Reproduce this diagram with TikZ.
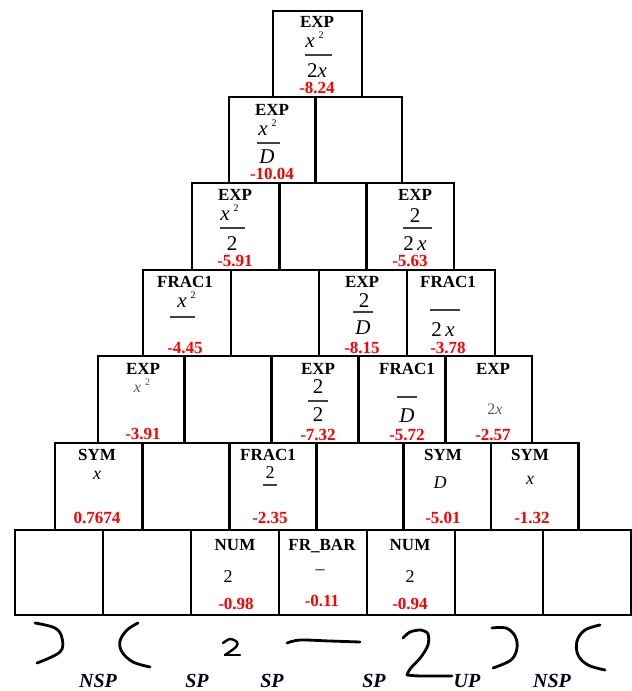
\documentclass[tikz,border=0pt]{standalone}
\usepackage{fontspec}
\setmainfont{Liberation Serif}
\newcommand\xsq{\textit{x}\kern4pt\raisebox{0.4em}{\fontsize{10}{10}\selectfont 2}}
\begin{document}
\begin{tikzpicture}[x=1pt,y=-1pt,
  cell/.style={draw, line width=2.8pt, inner sep=0pt},
  lab/.style={font=\fontsize{17}{17}\selectfont\bfseries, inner sep=0pt},
  val/.style={font=\fontsize{17}{17}\selectfont\bfseries, text=red, inner sep=0pt},
  mth/.style={font=\fontsize{21}{21}\selectfont, anchor=base, inner sep=0pt},
  mths/.style={font=\fontsize{16}{16}\selectfont, anchor=base, inner sep=0pt, text=black!65},
  mthm/.style={font=\fontsize{18}{18}\selectfont, anchor=base, inner sep=0pt},
  fbar/.style={line width=1.2pt, draw=black!75},
  tag/.style={font=\fontsize{20}{20}\selectfont\bfseries\itshape, inner sep=0pt, text=black!90!blue},
  ink/.style={line width=2.8pt, line cap=round, line join=round}]
\useasboundingbox (0,0) rectangle (632,691);
\fill[white] (0,0) rectangle (632,691);
% pyramid of cells
\foreach \r/\l/\w/\t/\h in {0/273/89/11/86, 1/229/86.5/97/86, 2/192/87.3/183/87, 3/143/88/270/86, 4/98/86.8/356/87, 5/55/87.2/443/87, 6/15/88/530/85} {
  \foreach \i in {0,...,\r} {
    \node[cell, minimum width=\w pt, minimum height=\h pt] (c\r\i) at ({\l+\w*(\i+0.5)},{\t+\h/2}) {};
  }
}
% row 0
\node[lab] (l00) at (317,22) {EXP};
\node[mth] (a00) at (314.5,47) {\xsq};
\draw[fbar] (305,55) -- (332,55);
\node[mth] (b00) at (317,77) {2\textit{x}};
\node[val] (v00) at (317,88) {-8.24};
% row 1
\node[lab] (l10) at (272,110) {EXP};
\node[mth] (a10) at (267.5,135) {\xsq};
\draw[fbar] (257,143) -- (280,143);
\node[mth] (b10) at (267,163) {\textit{D}};
\node[val] (v10) at (272,174) {-10.04};
% row 2
\node[lab] (l20) at (235,195) {EXP};
\node[mth] (a20) at (229.5,220) {\xsq};
\draw[fbar] (220,228) -- (245,228);
\node[mth] (b20) at (232,250) {2};
\node[val] (v20) at (235,261) {-5.91};
\node[lab] (l22) at (415,195) {EXP};
\node[mth] (a22) at (415,222) {2};
\draw[fbar] (403,228) -- (432,228);
\node[mth] (b22) at (415,250) {2\,\textit{x}};
\node[val] (v22) at (410,261) {-5.63};
% row 3
\node[lab] (l30) at (185,282) {FRAC1};
\node[mth] (a30) at (186.5,307) {\xsq};
\draw[fbar] (170,317) -- (195,317);
\node[val] (v30) at (185,348) {-4.45};
\node[lab] (l32) at (362,282) {EXP};
\node[mth] (a32) at (364,307) {2};
\draw[fbar] (353,312) -- (373,312);
\node[mth] (b32) at (363,334) {\textit{D}};
\node[val] (v32) at (362,348) {-8.15};
\node[lab] (l33) at (448,282) {FRAC1};
\draw[fbar] (430,310) -- (460,310);
\node[mth] (b33) at (443,336) {2\,\textit{x}};
\node[val] (v33) at (448,348) {-3.78};
% row 4
\node[lab] (l40) at (143,369) {EXP};
\node[mths] (a40) at (142,392) {\xsq};
\node[val] (v40) at (143,434) {-3.91};
\node[lab] (l42) at (318,369) {EXP};
\node[mth] (a42) at (318,393) {2};
\draw[fbar] (308,401) -- (328,401);
\node[mth] (b42) at (318,421) {2};
\node[val] (v42) at (318,435) {-7.32};
\node[lab] (l43) at (407,369) {FRAC1};
\draw[fbar] (397,397) -- (417,397);
\node[mth] (b43) at (407,422) {\textit{D}};
\node[val] (v43) at (407,435) {-5.72};
\node[lab] (l44) at (493,369) {EXP};
\node[mths] (b44) at (495,414) {2\textit{x}};
\node[val] (v44) at (493,435) {-2.57};
% row 5
\node[lab] (l50) at (97,455) {SYM};
\node[mthm] (a50) at (97,479) {\textit{x}};
\node[val] (v50) at (97,518) {0.7674};
\node[lab] (l52) at (268,455) {FRAC1};
\node[mthm] (a52) at (270,478) {2};
\draw[fbar] (263,485) -- (277,485);
\node[val] (v52) at (270,518) {-2.35};
\node[lab] (l54) at (443,455) {SYM};
\node[mthm] (a54) at (440,488) {\textit{D}};
\node[val] (v54) at (443,518) {-5.01};
\node[lab] (l55) at (530,455) {SYM};
\node[mthm] (a55) at (530,484) {\textit{x}};
\node[val] (v55) at (532,518) {-1.32};
% row 6
\node[lab] (l62) at (235,545) {NUM};
\node[mthm] (a62) at (228,582) {2};
\node[val] (v62) at (236,604) {-0.98};
\node[lab] (l63) at (322,546) {FR\_BAR};
\node[mthm] (a63) at (320,574) {–};
\node[val] (v63) at (322,601) {-0.11};
\node[lab] (l64) at (410,545) {NUM};
\node[mthm] (a64) at (410,582) {2};
\node[val] (v64) at (410,604) {-0.94};
% handwritten strokes
\draw[ink] plot[smooth, tension=0.6] coordinates {(35,623) (55,628) (62,638) (60,652) (37,663)};
\draw[ink] plot[smooth, tension=0.6] coordinates {(138,623) (127,630) (120,641) (122,652) (133,662) (150,667)};
\draw[ink, line width=2.4pt] plot[smooth, tension=0.5] coordinates {(223,643) (230,639) (237,642) (236,647) (225,655)};
\draw[ink, line width=2.4pt] (225,655) -- (240,655);
\draw[ink] plot[smooth, tension=0.5] coordinates {(287,643) (300,640) (330,641) (360,642)};
\draw[ink] plot[smooth, tension=0.5] coordinates {(403,638) (410,632) (421,630) (428,634) (428,645) (421,657) (410,669) (407,675)};
\draw[ink] plot[smooth, tension=0.4] coordinates {(407,675) (420,676) (452,676)};
\draw[ink] plot[smooth, tension=0.6] coordinates {(492,628) (506,628) (515,636) (517,648) (511,660) (493,668)};
\draw[ink] plot[smooth, tension=0.6] coordinates {(600,625) (585,630) (577,641) (578,655) (588,665) (605,670)};
% labels
\node[tag] (n1) at (98,681) {NSP};
\node[tag] (n2) at (197,681) {SP};
\node[tag] (n3) at (272,681) {SP};
\node[tag] (n4) at (374,681) {SP};
\node[tag] (n5) at (467,681) {UP};
\node[tag] (n6) at (552,681) {NSP};
\end{tikzpicture}
\end{document}
